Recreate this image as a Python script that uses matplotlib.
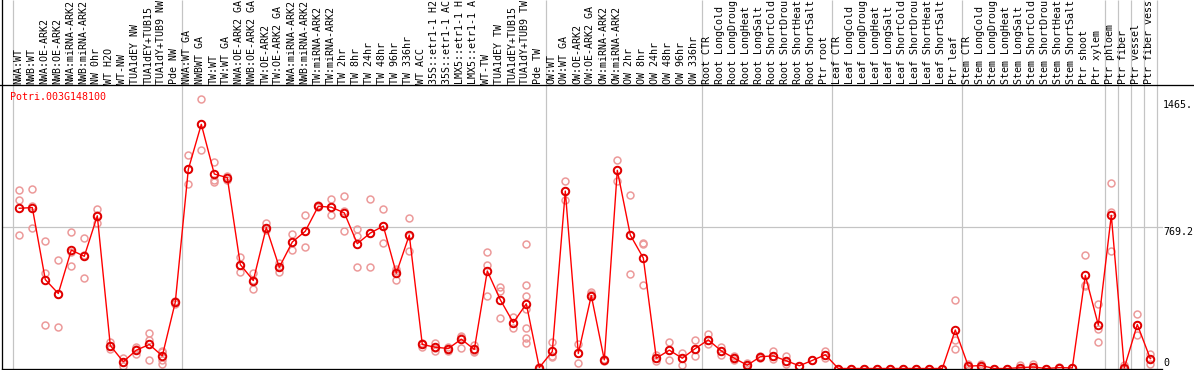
import matplotlib
matplotlib.use('Agg')
import matplotlib.pyplot as plt
import numpy as np

# ---------------- data ----------------
labels = [
    # group 1
    "NWA:WT", "NWB:WT", "NWA:OE-ARK2", "NWB:OE-ARK2", "NWA:miRNA-ARK2", "NWB:miRNA-ARK2",
    "NW 0hr", "WT H2O", "WT-NW", "TUA1dEY NW", "TUA1dEY+TUB15", "TUA1dY+TUB9 NW", "Pde NW",
    # group 2
    "NWA:WT GA", "NWBWT GA", "TW:WT", "TW:WT GA", "NWA:OE-ARK2 GA", "NWB:OE-ARK2 GA",
    "TW:OE-ARK2", "TW:OE-ARK2 GA", "NWA:miRNA-ARK2", "NWB:miRNA-ARK2", "TW:miRNA-ARK2",
    "TW:miRNA-ARK2", "TW 2hr", "TW 8hr", "TW 24hr", "TW 48hr", "TW 96hr", "TW 336hr", "WT ACC",
    "35S::etr1-1 H2", "35S::etr1-1 AC", "LMX5::etr1-1 H", "LMX5::etr1-1 A", "WT-TW",
    "TUA1dEY TW", "TUA1dEY+TUB15", "TUA1dY+TUB9 TW", "Pde TW",
    # group 3
    "OW:WT", "OW:WT GA", "OW:OE-ARK2", "OW:OE-ARK2 GA", "OW:miRNA-ARK2", "OW:miRNA-ARK2",
    "OW 2hr", "OW 8hr", "OW 24hr", "OW 48hr", "OW 96hr", "OW 336hr",
    # group 4
    "Root CTR", "Root LongCold", "Root LongDroug", "Root LongHeat", "Root LongSalt",
    "Root ShortCold", "Root ShortDrou", "Root ShortHeat", "Root ShortSalt", "Ptr root",
    # group 5
    "Leaf CTR", "Leaf LongCold", "Leaf LongDroug", "Leaf LongHeat", "Leaf LongSalt",
    "Leaf ShortCold", "Leaf ShortDrou", "Leaf ShortHeat", "Leaf ShortSalt", "Ptr leaf",
    # group 6
    "Stem CTR", "Stem LongCold", "Stem LongDroug", "Stem LongHeat", "Stem LongSalt",
    "Stem ShortCold", "Stem ShortDrou", "Stem ShortHeat", "Stem ShortSalt", "Ptr shoot",
    "Ptr xylem",
    # singles
    "Ptr phloem", "Ptr fiber", "Ptr vessel", "Ptr fiber vess",
]

group_sizes = [13, 28, 12, 10, 10, 11, 1, 1, 1, 1]

means = [
    874, 878, 485, 409, 646, 612, 833, 125, 37, 100, 131, 69, 362,
    1086, 1332, 1061, 1041, 567, 480, 769, 552, 690, 749, 885, 880, 849, 681, 739, 777,
    520, 728, 131, 116, 109, 160, 104, 532, 375, 250, 353, 5,
    93, 968, 82, 398, 47, 1081, 728, 603, 56, 100, 56, 109,
    156, 96, 56, 18, 64, 69, 42, 15, 44, 75,
    0, 0, 0, 0, 0, 0, 0, 0, 0, 210,
    13, 16, 0, 0, 5, 8, 0, 5, 3, 508, 237,
    836, 3, 240, 54,
]

replicates = [
    [974, 920, 730], [979, 889, 766], [693, 522, 236], [594, 406, 227], [744, 633, 561],
    [711, 621, 494], [871, 835, 793], [145, 121, 109], [58, 38, 15], [118, 104, 78],
    [192, 156, 46], [96, 90, 47, 24], [370, 362, 354],
    [1164, 1088, 1006], [1471, 1332, 1191], [1126, 1028, 1019], [1050, 1045, 1028],
    [608, 567, 525], [522, 483, 435], [793, 769, 757], [576, 555, 525], [735, 690, 648],
    [836, 749, 663], [890, 885, 880], [923, 880, 836], [939, 858, 749], [762, 721, 556],
    [923, 739, 556], [871, 777, 684], [543, 532, 485], [820, 724, 641], [141, 131, 120],
    [141, 114, 93], [118, 109, 95], [178, 170, 114], [127, 96, 90], [635, 563, 398],
    [444, 422, 277], [281, 250, 223], [681, 455, 398, 322, 223, 169, 141], [10, 5, 0],
    [147, 69, 63], [1023, 968, 920], [131, 82, 28], [420, 409, 398], [52, 47, 42],
    [1135, 1081, 1024], [945, 728, 516], [684, 678, 458], [74, 56, 40], [143, 100, 49],
    [87, 56, 20], [154, 109, 66],
    [187, 156, 132], [118, 96, 75], [69, 56, 45], [29, 18, 8], [69, 64, 58], [96, 69, 50],
    [69, 42, 24], [15, 15, 15], [44, 44, 44], [96, 75, 60],
    [0, 0, 0], [0, 0, 0], [0, 0, 0], [0, 0, 0], [0, 0, 0], [0, 0, 0], [0, 0, 0], [0, 0, 0],
    [0, 0, 0], [371, 153, 104],
    [22, 13, 5], [25, 16, 8], [0, 0, 0], [0, 0, 0], [18, 5, 0], [22, 8, 0], [0, 0, 0],
    [8, 5, 2], [3, 3, 3], [619, 455, 450], [350, 213, 143],
    [1010, 852, 639], [18, 0, 0], [300, 240, 183], [81, 54, 24],
]

title = "Potri.003G148100"
ytick_values = [1465.0, 769.2, 0.0]
ytick_labels = ["1465.", "769.2", "0"]
y_axis_max = 1538.4

# ---------------- layout (pixel geometry) ----------------
W, H, DPI = 1194, 370, 100
fig = plt.figure(figsize=(W / DPI, H / DPI), dpi=DPI)
ax = fig.add_axes([0, 0, 1, 1])
ax.set_axis_off()

px_first, px_step = 19.3, 13.0
py_zero, py_top = 368.5, 86.5
yscale = y_axis_max / (py_zero - py_top)


def xd(px):
    return (px - px_first) / px_step


def yd(py):
    return (py_zero - py) * yscale


ax.set_xlim(xd(0), xd(W))
ax.set_ylim(yd(H), yd(0))

MONO = "DejaVu Sans Mono"
FS = 7.2
GRAY = "#C4C4C4"
PX = 0.72  # one pixel in points

# separators
bounds = np.cumsum([0] + group_sizes) - 0.5
for b in bounds:
    ax.plot([b, b], [yd(H), yd(0)], color=GRAY, lw=PX * 1.2, zorder=1, solid_capstyle='butt')

# mid grid line
ax.plot([xd(1.7), xd(1162)], [ytick_values[1]] * 2, color=GRAY, lw=PX * 1.2, zorder=1)

# frame lines
ax.plot([xd(1.7)] * 2, [yd(H), yd(0)], color="black", lw=PX * 1.3, zorder=5)
ax.plot([xd(0), xd(W)], [yd(85)] * 2, color="black", lw=PX * 1.3, zorder=5)
ax.plot([xd(1.7), xd(1162)], [yd(369.3)] * 2, color="black", lw=PX * 1.3, zorder=5)

# replicates
for i, reps in enumerate(replicates):
    ax.plot([i] * len(reps), reps, linestyle='none', marker='o', ms=5.0, mfc='none',
            mec='#EC9A9A', mew=1.1, zorder=2)

x = np.arange(len(means))
ax.plot(x, means, color='#FF0000', lw=1.0, zorder=3)
ax.plot(x, means, linestyle='none', marker='o', ms=5.4, mfc='none', mec='#E00000',
        mew=1.4, zorder=4)

# sample labels
for i, lab in enumerate(labels):
    ax.text(i - 0.07, yd(83.5), lab, rotation=90, ha='center', va='bottom',
            fontsize=FS, family=MONO, color='black', zorder=6)

# title
ax.text(xd(9.5), yd(96.5), title, color='#FF0000', ha='left', va='center',
        fontsize=FS, family=MONO, zorder=6)

# y tick labels on right
vas = ['top', 'top', 'bottom']
for v, lab, va in zip(ytick_values, ytick_labels, vas):
    ax.text(xd(1163), v, lab, ha='left', va=va, fontsize=FS, family=MONO,
            color='black', zorder=6)

fig.savefig("out.png", dpi=DPI)
